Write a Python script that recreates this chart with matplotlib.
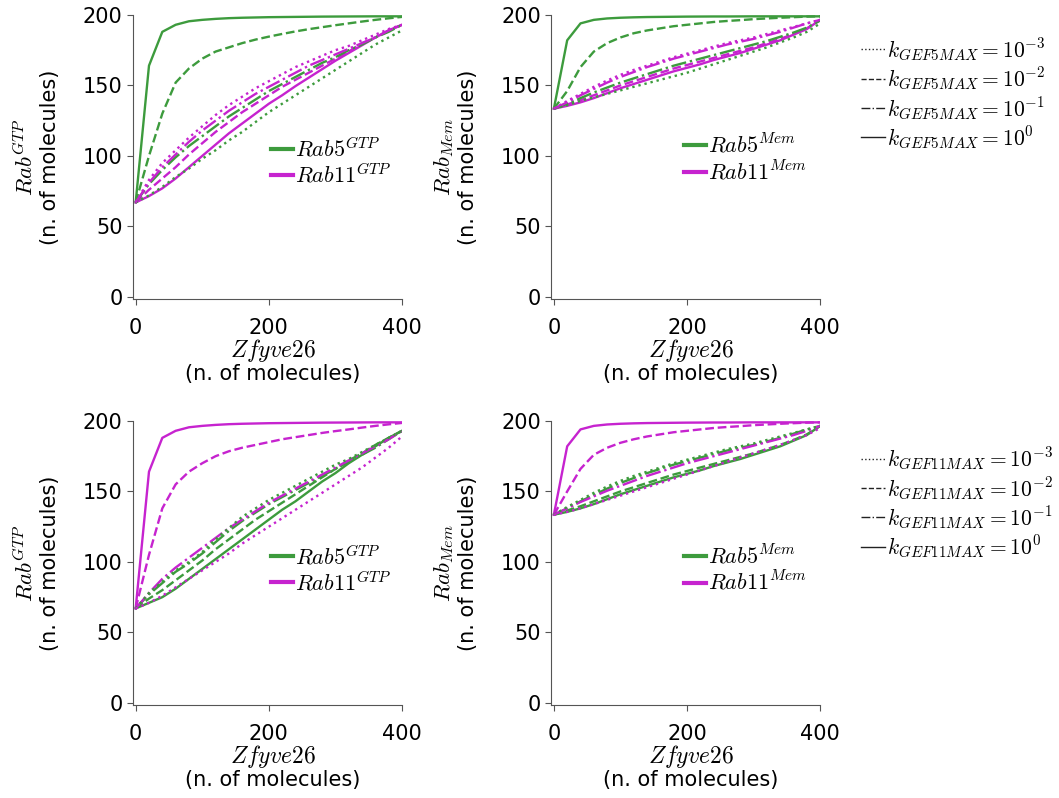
import numpy as np
import matplotlib.pyplot as plt
from matplotlib.lines import Line2D

plt.rcParams['mathtext.fontset'] = 'cm'
plt.rcParams['font.size'] = 15

green = '#3d9b3d'
magenta = '#c623cf'

zfyve = np.arange(0, 401, 20)

# --- top row: varying kGEF5MAX ---
# Rab GTP, top-left
gtp5_k0 = [67, 164, 188, 193, 195.5, 196.5, 197.2, 197.7, 198, 198.2, 198.4, 198.5, 198.6, 198.7, 198.8, 198.85, 198.9, 198.95, 199, 199, 199]
gtp5_k1 = [67, 100, 130, 152, 162, 169, 174, 177, 180, 182.5, 184.6, 186.5, 188.3, 189.9, 191.3, 192.7, 194, 195.3, 196.5, 197.6, 198.6]
gtp5_k2 = [67, 80, 90, 99, 107, 114, 121, 128, 134, 140, 146, 151, 156, 161, 166, 170, 175, 179, 184, 188, 193]
gtp5_k3 = [67, 72, 78, 85, 91, 98, 104, 111, 117, 124, 131, 137, 143, 149, 155, 161, 167, 173, 179, 184, 189]
gtp11_k0 = [67, 71.5, 77, 84, 92, 100, 108, 116, 123, 130, 137, 143, 149.5, 155.5, 161.5, 167.5, 173, 178.5, 184, 189, 193]
gtp11_k1 = [67, 76, 84, 92, 101, 109, 117, 124, 131, 137, 143, 149, 154, 159, 164, 169, 174, 180, 184, 189, 193]
gtp11_k2 = [67, 81, 92, 101, 110, 118, 125, 132, 138, 144, 149, 154, 159, 164, 168, 172, 176, 180, 184, 189, 193]
gtp11_k3 = [67, 83, 95, 104, 113, 121, 129, 136, 142, 148, 153, 158, 163, 167, 171, 175, 178, 182, 186, 190, 193]

# Rab Mem, top-right
mem5_k0 = [133.5, 182, 194, 196.5, 197.5, 198, 198.3, 198.5, 198.6, 198.7, 198.8, 198.85, 198.9, 198.9, 198.95, 199, 199, 199, 199, 199, 199]
mem5_k1 = [133.5, 146, 163, 174, 180, 184, 187, 189, 190.5, 192, 193, 194, 195, 195.7, 196.3, 197, 197.5, 198, 198.4, 198.8, 199]
mem5_k2 = [133.5, 137, 141, 145, 148.5, 152, 155, 158, 161, 164, 166.5, 169, 171.5, 174, 176.5, 179, 181.5, 184.5, 187.5, 191, 196]
mem5_k3 = [133.5, 136, 139, 141.5, 144, 146.5, 149, 151.5, 154, 156.5, 159, 162, 165, 168, 171, 174, 177, 180.5, 184, 188, 194]
mem11_k0 = [133.5, 135.5, 138, 141, 144.5, 148, 151, 154, 157, 160, 162.5, 165, 168, 170.5, 173, 176, 179, 182, 186, 190, 196.5]
mem11_k1 = [133.5, 136.5, 139.5, 143, 146.5, 150, 153, 156, 159, 162, 164.5, 167, 169.5, 172, 174.5, 177, 180, 183, 186.5, 190.5, 196.5]
mem11_k2 = [133.5, 138, 143, 147.5, 152, 156, 159.5, 163, 166, 169, 171.5, 174, 176.5, 179, 181, 183, 185.5, 188, 191, 194, 196.5]
mem11_k3 = [133.5, 139, 144, 149, 153.5, 157.5, 161, 164, 167, 170, 172.5, 175, 177.5, 180, 182, 184, 186.5, 189, 191.5, 194, 196.5]

# --- bottom row: varying kGEF11MAX ---
# Rab GTP, bottom-left
b_gtp11_k0 = [67, 164, 188, 193, 195.5, 196.5, 197.2, 197.7, 198, 198.2, 198.4, 198.5, 198.6, 198.7, 198.8, 198.85, 198.9, 198.95, 199, 199, 199]
b_gtp11_k1 = [67, 105, 138, 155, 164, 170, 175, 178.5, 181, 183, 185, 187, 188.5, 190, 191.5, 192.8, 194, 195.3, 196.5, 197.6, 198.6]
b_gtp11_k2 = [67, 78, 88, 96, 103, 110, 117, 124, 130, 136, 142, 147, 152, 157, 162, 167, 172, 177, 182, 187, 193]
b_gtp11_k3 = [67, 71, 76, 82, 88, 94, 100, 106, 113, 119, 125, 131, 137, 143, 149, 155, 161, 167, 174, 181, 189]
b_gtp5_k0 = [67, 71, 75, 81, 88, 95, 102, 109, 116, 123, 130, 137, 143, 150, 157, 163, 170, 176, 182, 188, 193]
b_gtp5_k1 = [67, 74, 80, 87, 94, 101, 109, 116, 123, 130, 136, 142, 148, 154, 160, 166, 172, 177, 183, 188, 193]
b_gtp5_k2 = [67, 77, 85, 93, 99, 106, 114, 122, 129, 135, 141, 146, 151, 156, 161, 166, 171, 176, 181, 187, 193]
b_gtp5_k3 = [67, 78, 86, 94, 100, 107, 116, 124, 132, 138, 144, 149, 154, 159, 164, 169, 173, 178, 183, 188, 193]

# Rab Mem, bottom-right
b_mem11_k0 = [133.5, 182, 194, 196.5, 197.5, 198, 198.3, 198.5, 198.6, 198.7, 198.8, 198.85, 198.9, 198.9, 198.95, 199, 199, 199, 199, 199, 199]
b_mem11_k1 = [133.5, 150, 166, 176, 181, 184.5, 187, 189, 190.5, 192, 193, 194, 195, 195.7, 196.3, 197, 197.5, 198, 198.4, 198.8, 199]
b_mem11_k2 = [133.5, 138, 142.5, 146.5, 150.5, 154, 157.5, 161, 164, 167, 170, 172.5, 175, 177.5, 180, 182.5, 185, 187.5, 190, 193, 196.5]
b_mem11_k3 = [133.5, 135.5, 138, 141, 144, 147, 150, 153, 156, 159, 162, 165, 168, 171, 174, 177, 180, 183, 186.5, 190, 195]
b_mem5_k0 = [133.5, 135.5, 138, 141, 144.5, 148, 151, 154, 157, 160, 162.5, 165, 168, 170.5, 173, 176, 179, 182, 186, 190, 196.5]
b_mem5_k1 = [133.5, 136.5, 139.5, 143, 146.5, 150, 153, 156, 159, 162, 164.5, 167, 169.5, 172, 174.5, 177, 180, 183, 186.5, 190.5, 196.5]
b_mem5_k2 = [133.5, 138, 143, 147.5, 152, 156, 159.5, 163, 166, 169, 171.5, 174, 176.5, 179, 181, 183, 185.5, 188, 191, 194, 196.5]
b_mem5_k3 = [133.5, 139, 144, 149, 153.5, 157.5, 161, 164, 167, 170, 172.5, 175, 177.5, 180, 182, 184, 186.5, 189, 191.5, 194, 196.5]

styles = ['-', '--', '-.', ':']   # k = 10^0, 10^-1, 10^-2, 10^-3

panels = [
    ([gtp5_k0, gtp5_k1, gtp5_k2, gtp5_k3], [gtp11_k0, gtp11_k1, gtp11_k2, gtp11_k3], 'GTP', True),
    ([mem5_k0, mem5_k1, mem5_k2, mem5_k3], [mem11_k0, mem11_k1, mem11_k2, mem11_k3], 'Mem', False),
    ([b_gtp5_k0, b_gtp5_k1, b_gtp5_k2, b_gtp5_k3], [b_gtp11_k0, b_gtp11_k1, b_gtp11_k2, b_gtp11_k3], 'GTP', True),
    ([b_mem5_k0, b_mem5_k1, b_mem5_k2, b_mem5_k3], [b_mem11_k0, b_mem11_k1, b_mem11_k2, b_mem11_k3], 'Mem', False),
]

fig = plt.figure(figsize=(10.59, 7.98), dpi=100)
rects = [
    [0.1256, 0.6253, 0.254, 0.356],
    [0.5205, 0.6253, 0.254, 0.356],
    [0.1256, 0.1165, 0.254, 0.356],
    [0.5205, 0.1165, 0.254, 0.356],
]
leg_pos = [(0.47, 0.482), (0.452, 0.495), (0.47, 0.478), (0.452, 0.478)]

for i, (r5, r11, kind, is_gtp) in enumerate(panels):
    ax = fig.add_axes(rects[i])
    for s, y5, y11 in zip(styles, r5, r11):
        ax.plot(zfyve, y5, color=green, ls=s, lw=1.7)
        ax.plot(zfyve, y11, color=magenta, ls=s, lw=1.7)
    ax.set_xlim(-4, 400)
    ax.set_ylim(-1.5, 200)
    ax.set_xticks([0, 200, 400])
    ax.set_yticks([0, 50, 100, 150, 200])
    ax.spines['top'].set_visible(False)
    ax.spines['right'].set_visible(False)
    for sp in ['left', 'bottom']:
        ax.spines[sp].set_color('#555555')
    ax.tick_params(colors='#555555', labelcolor='black', labelsize=15, length=4)
    ax.tick_params(axis='x', pad=10)

    # axis labels: math part and unit part
    ax.text(0.52, -0.18, '$Zfyve26$', transform=ax.transAxes, ha='center', va='center', fontsize=17)
    ax.text(0.52, -0.265, '(n. of molecules)', transform=ax.transAxes, ha='center', va='center', fontsize=15)
    ylab = '$Rab^{GTP}$' if is_gtp else '$Rab_{Mem}$'
    ax.text(-0.40, 0.5, ylab, transform=ax.transAxes, ha='center', va='center', rotation=90, fontsize=16.5)
    ax.text(-0.31, 0.5, '(n. of molecules)', transform=ax.transAxes, ha='center', va='center', rotation=90, fontsize=15)

    h = [Line2D([], [], color=green, lw=3), Line2D([], [], color=magenta, lw=3)]
    ax.legend(h, ['$Rab5^{%s}$' % kind, '$Rab11^{%s}$' % kind], loc='center left',
              bbox_to_anchor=leg_pos[i], frameon=False, fontsize=16,
              handlelength=1.0, handletextpad=0.1, labelspacing=0.1, borderpad=0)

for gef, ytop in [('5', 0.968), ('11', 0.455)]:
    hk = [Line2D([], [], color='#222222', ls=s, lw=1) for s in [':', '--', '-.', '-']]
    labs = ['$k_{GEF%sMAX}=10^{%s}$' % (gef, e) for e in ['-3', '-2', '-1', '0']]
    fig.legend(hk, labs, loc='upper left', bbox_to_anchor=(0.803, ytop), frameon=False,
               fontsize=15.5, handlelength=1.1, handletextpad=0.1, labelspacing=0.12, borderpad=0)

fig.savefig('out.png', dpi=100)
